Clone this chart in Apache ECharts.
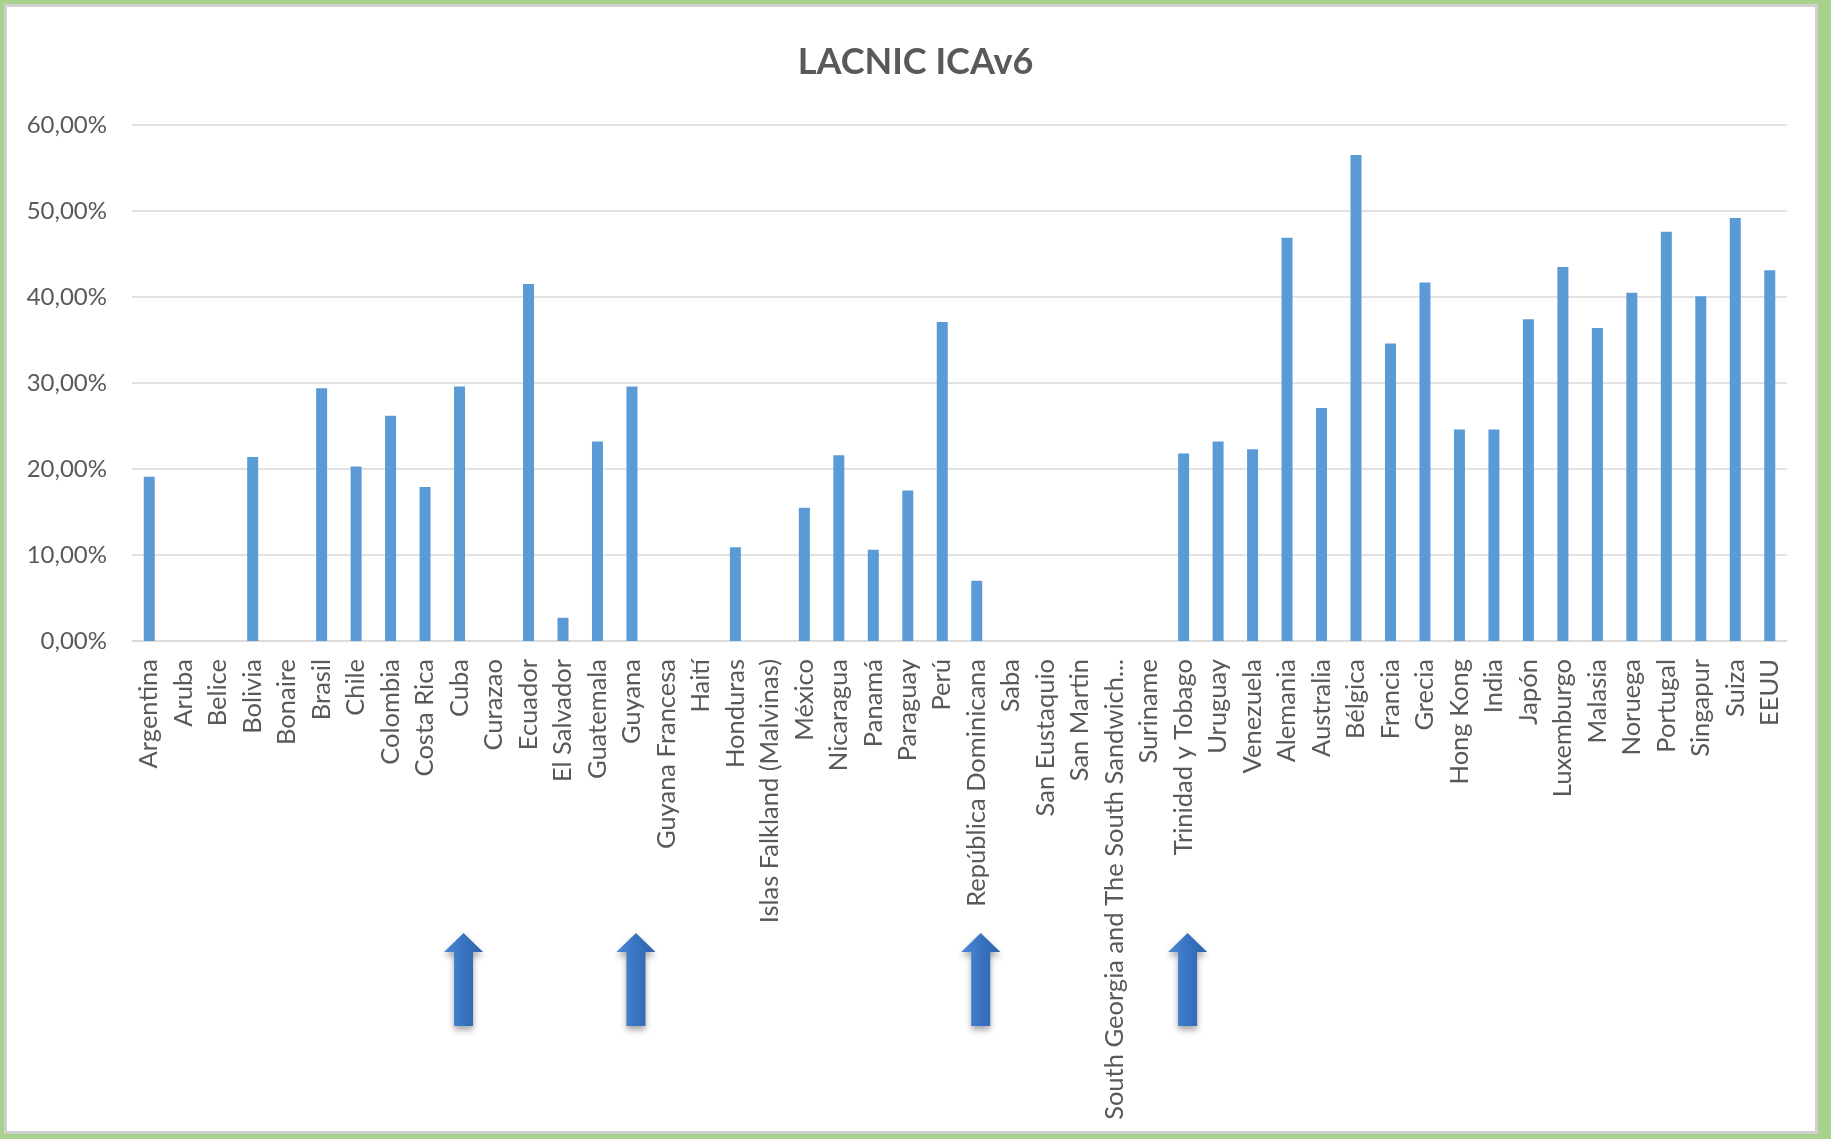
<!DOCTYPE html>
<html>
<head>
<meta charset="utf-8">
<script src="https://cdn.jsdelivr.net/npm/echarts@6/dist/echarts.min.js"></script>
<style>
  html, body { margin: 0; padding: 0; width: 1831px; height: 1139px; overflow: hidden; background: #A9D18E; }
  #frame { position: absolute; left: 4px; top: 4px; width: 1814px; height: 1130px; box-sizing: border-box;
           background: #ffffff; border: 3px solid #D0D0D0; }
  #chart { position: absolute; left: 0; top: 0; width: 1831px; height: 1139px; }
</style>
</head>
<body>
<div id="frame"></div>
<div id="chart"></div>
<script>
// ---- data ----
const titleText = 'LACNIC ICAv6';
const categories = ['Argentina','Aruba','Belice','Bolivia','Bonaire','Brasil','Chile','Colombia','Costa Rica','Cuba',
  'Curazao','Ecuador','El Salvador','Guatemala','Guyana','Guyana Francesa','Haití','Honduras','Islas Falkland (Malvinas)','México',
  'Nicaragua','Panamá','Paraguay','Perú','República Dominicana','Saba','San Eustaquio','San Martin','South Georgia and The South Sandwich...','Suriname',
  'Trinidad y Tobago','Uruguay','Venezuela','Alemania','Australia','Bélgica','Francia','Grecia','Hong Kong','India',
  'Japón','Luxemburgo','Malasia','Noruega','Portugal','Singapur','Suiza','EEUU'];
const values = [19.1, 0, 0, 21.4, 0, 29.4, 20.3, 26.2, 17.9, 29.6,
  0, 41.5, 2.7, 23.2, 29.6, 0, 0, 10.9, 0, 15.5,
  21.6, 10.6, 17.5, 37.1, 7.0, 0, 0, 0, 0, 0,
  21.8, 23.2, 22.3, 46.9, 27.1, 56.5, 34.6, 41.7, 24.6, 24.6,
  37.4, 43.5, 36.4, 40.5, 47.6, 40.1, 49.2, 43.1];
const yTicks = [0, 10, 20, 30, 40, 50, 60];
const arrowCategories = ['Cuba', 'Guyana', 'República Dominicana', 'Trinidad y Tobago'];

// ---- chart ----
const chart = echarts.init(document.getElementById('chart'), null, { renderer: 'canvas' });
const FONT = 'Lato, "Open Sans", sans-serif';
const TXT = '#595959';

chart.setOption({
  animation: false,
  backgroundColor: 'transparent',
  title: {
    text: titleText,
    left: 'center',
    top: 39,
    textStyle: { fontFamily: FONT, fontWeight: 'bold', fontSize: 36, color: TXT }
  },
  grid: { left: 132, right: 44, top: 125, bottom: 498, containLabel: false },
  xAxis: {
    type: 'category',
    data: categories,
    axisTick: { show: false },
    axisLine: { lineStyle: { color: '#D9D9D9', width: 1.5 } },
    axisLabel: {
      interval: 0, rotate: 90, margin: 18,
      fontFamily: FONT, fontSize: 25.5, color: TXT
    }
  },
  yAxis: {
    type: 'value',
    min: yTicks[0], max: yTicks[yTicks.length - 1], interval: 10,
    axisLine: { show: false },
    axisTick: { show: false },
    splitLine: { lineStyle: { color: '#D9D9D9', width: 1.5 } },
    axisLabel: {
      margin: 25, fontFamily: FONT, fontSize: 24, color: TXT,
      formatter: v => v.toFixed(2).replace('.', ',') + '%'
    }
  },
  series: [
    {
      type: 'bar',
      data: values,
      barWidth: 11,
      itemStyle: { color: '#5B9BD5' }
    },
    {
      type: 'custom',
      silent: true,
      clip: false,
      data: arrowCategories.map(c => [c, 0]),
      renderItem: function (params, api) {
        const cx = api.coord([api.value(0), 0])[0] + 4;
        const tipY = 933, baseY = 952, botY = 1026, hw = 19.5, sw = 9.5;
        return {
          type: 'polygon',
          shape: { points: [[cx, tipY], [cx + hw, baseY], [cx + sw, baseY], [cx + sw, botY],
                            [cx - sw, botY], [cx - sw, baseY], [cx - hw, baseY]] },
          style: {
            fill: new echarts.graphic.LinearGradient(0, 0, 1, 0, [
              { offset: 0, color: '#4A89D6' }, { offset: 0.5, color: '#3874C2' }, { offset: 1, color: '#2D62A8' }
            ]),
            shadowBlur: 6, shadowColor: 'rgba(0,0,0,0.35)', shadowOffsetY: 4
          }
        };
      }
    }
  ]
});
</script>
</body>
</html>
